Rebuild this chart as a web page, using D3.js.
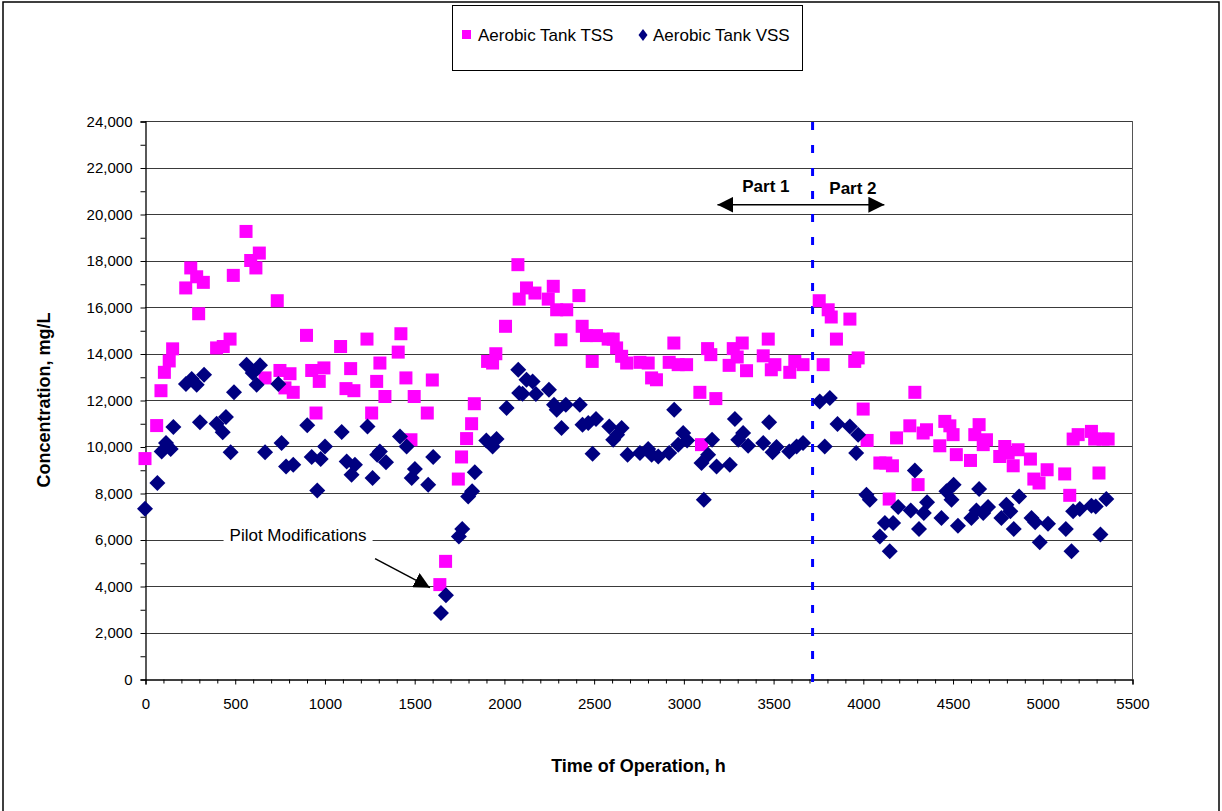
<!DOCTYPE html>
<html>
<head>
<meta charset="utf-8">
<script src="https://cdn.jsdelivr.net/npm/d3@7"></script>
<style>
body { margin: 0; background: #fff; }
svg { display: block; }
text { font-family: Arial, "Liberation Sans", sans-serif; fill: #000; }
</style>
</head>
<body>
<svg id="chart"></svg>
<script>
// Aerobic tank TSS (pink squares): time (h) and concentration (mg/L)
const tssHours = [0, 65, 89, 108, 135, 154, 227, 255, 288, 299, 325, 399, 436, 474, 492, 563, 589, 618, 637, 669,
  737, 752, 780, 808, 826, 900, 929, 953, 971, 997, 1090, 1120, 1146, 1164, 1237, 1263, 1291, 1309, 1337, 1411,
  1426, 1454, 1482, 1500, 1573, 1601, 1643, 1675, 1746, 1764, 1792, 1820, 1835, 1909, 1937, 1955, 2009, 2078, 2085, 2126,
  2173, 2247, 2275, 2294, 2318, 2350, 2418, 2436, 2460, 2492, 2516, 2581, 2609, 2628, 2656, 2684, 2758, 2804, 2823, 2850,
  2921, 2947, 2971, 3018, 3092, 3101, 3135, 3153, 3181, 3255, 3278, 3300, 3328, 3352, 3445, 3473, 3490, 3510, 3593, 3621,
  3667, 3757, 3779, 3807, 3824, 3853, 3928, 3955, 3974, 4002, 4024, 4095, 4128, 4147, 4165, 4188, 4262, 4290, 4308, 4336,
  4355, 4429, 4457, 4485, 4503, 4521, 4600, 4624, 4648, 4671, 4689, 4763, 4791, 4810, 4838, 4865, 4934, 4953, 4982, 5027,
  5125, 5153, 5172, 5200, 5274, 5292, 5316, 5339, 5367];
const tssValues = [9480, 10900, 12400, 13190, 13680, 14200, 16820, 17680, 17300, 15710, 17060, 14240, 14300, 14620, 17360, 19250, 18000, 17680, 18320, 12950,
  16270, 13270, 12520, 13130, 12330, 14780, 13270, 11440, 12800, 13380, 14300, 12490, 13350, 12400, 14620, 11440, 12800, 13590, 12150, 14060,
  14850, 12950, 10290, 12150, 11440, 12860, 4060, 5060, 8600, 9550, 10340, 10980, 11840, 13660, 13590, 13990, 15170, 17820, 16340, 16820,
  16600, 16340, 16890, 15880, 14590, 15880, 16490, 15170, 14770, 13660, 14770, 14620, 14620, 14240, 13880, 13590, 13620, 13590, 12950, 12870,
  13620, 14450, 13520, 13520, 12330, 10080, 14210, 13950, 12060, 13490, 14210, 13850, 14450, 13260, 13900, 14620, 13300, 13520, 13190, 13660,
  13520, 16270, 13520, 15880, 15570, 14620, 15480, 13660, 13810, 11610, 10260, 9290, 9290, 7740, 9170, 10370, 10890, 12330, 8360, 10580,
  10720, 10030, 11080, 10890, 10510, 9650, 9400, 10510, 10940, 10080, 10290, 9570, 10000, 9720, 9170, 9860, 9460, 8600, 8430, 9000,
  8820, 7900, 10320, 10510, 10650, 10320, 8860, 10320, 10320];

// Aerobic tank VSS (navy diamonds)
const vssHours = [0, 69, 93, 117, 143, 158, 228, 260, 288, 306, 329, 399, 433, 451, 477, 496, 566, 600, 622, 641,
  669, 743, 761, 786, 826, 904, 929, 960, 979, 1003, 1096, 1124, 1151, 1170, 1240, 1268, 1294, 1309, 1343, 1421,
  1458, 1486, 1504, 1578, 1606, 1649, 1677, 1749, 1768, 1801, 1823, 1838, 1902, 1937, 1959, 2015, 2080, 2085, 2104, 2126,
  2160, 2178, 2251, 2279, 2294, 2321, 2345, 2423, 2438, 2470, 2494, 2513, 2587, 2609, 2631, 2656, 2689, 2758, 2804, 2823,
  2860, 2921, 2949, 2971, 2999, 3021, 3101, 3114, 3138, 3160, 3185, 3259, 3287, 3306, 3333, 3361, 3445, 3478, 3497, 3519,
  3590, 3631, 3667, 3760, 3788, 3816, 3859, 3928, 3963, 3974, 4020, 4039, 4095, 4123, 4150, 4169, 4197, 4267, 4290, 4313,
  4340, 4358, 4438, 4466, 4494, 4506, 4530, 4605, 4633, 4648, 4671, 4698, 4772, 4800, 4822, 4841, 4871, 4940, 4960, 4986,
  5032, 5131, 5163, 5172, 5209, 5274, 5298, 5324, 5357];
const vssValues = [7320, 8430, 9790, 10150, 9890, 10840, 12690, 12900, 12660, 11040, 13090, 10980, 10610, 11270, 9750, 12330, 13520, 13160, 12660, 13490,
  9750, 12690, 10150, 9140, 9220, 10910, 9550, 8110, 9460, 10000, 10620, 9360, 8790, 9220, 10860, 8650, 9650, 9790, 9320, 10430,
  10000, 8650, 9030, 8360, 9550, 2840, 3600, 6130, 6450, 7850, 8070, 8890, 10260, 10000, 10320, 11660, 13300, 12300, 12270, 12870,
  12800, 12260, 12440, 11800, 11580, 10800, 11800, 11800, 10940, 11010, 9690, 11180, 10860, 10290, 10510, 10800, 9650, 9720, 9890, 9650,
  9570, 9720, 11580, 10080, 10580, 10260, 9290, 7710, 9650, 10290, 9140, 9220, 11180, 10290, 10580, 10030, 10150, 11040, 9750, 9980,
  9790, 10000, 10150, 11940, 10000, 12090, 10970, 10860, 9720, 10510, 7930, 7710, 6130, 6710, 5490, 6710, 7400, 7250, 8970, 6450,
  7140, 7600, 6920, 8070, 7710, 8360, 6590, 6920, 7250, 8170, 7140, 7400, 6920, 7500, 7210, 6450, 7850, 6920, 6740, 5880,
  6680, 6450, 5490, 7210, 7310, 7450, 7420, 6210, 7740];

const seriesNames = ["Aerobic Tank TSS", "Aerobic Tank VSS"];
const yTicks = d3.range(0, 24001, 2000);
const xTicks = d3.range(0, 5501, 500);
const partSplit = 3720;          // hour where Part 2 starts
const partArrow = [3190, 4120, 20400];
const pilotNote = { text: "Pilot Modifications", h: 853, v: 5920, from: [1282, 5180], to: [1588, 3930] };

const width = 1222, height = 811;
const svg = d3.select("#chart").attr("width", width).attr("height", height);

const x = d3.scaleLinear().domain([0, 5500]).range([145, 1132]);
const y = d3.scaleLinear().domain([0, 24000]).range([679, 121]);

// chart area border
svg.append("rect")
  .attr("x", 3).attr("y", 2).attr("width", 1216).attr("height", 840)
  .attr("fill", "#fff").attr("stroke", "#000").attr("stroke-width", 1.5);

// gridlines
svg.append("g")
  .selectAll("line")
  .data(yTicks.filter(d => d > 0))
  .join("line")
  .attr("x1", x(0)).attr("x2", x(5500))
  .attr("y1", d => Math.round(y(d)) + 0.5).attr("y2", d => Math.round(y(d)) + 0.5)
  .attr("stroke", "#3a3a3a").attr("stroke-width", 1);

// plot border (right side)
svg.append("line")
  .attr("x1", x(5500) + 0.5).attr("x2", x(5500) + 0.5)
  .attr("y1", y(24000)).attr("y2", y(0))
  .attr("stroke", "#555");

// y axis
const yAxis = svg.append("g")
  .attr("transform", `translate(${x(0) + 0.5},0.5)`)
  .call(d3.axisLeft(y).tickValues(yTicks).tickFormat(d3.format(",")).tickSize(5).tickPadding(8));
svg.append("g")
  .attr("transform", `translate(${x(0) + 0.5},0.5)`)
  .call(d3.axisLeft(y).tickValues(d3.range(1000, 24000, 2000)).tickFormat("").tickSize(5))
  .select(".domain").remove();
yAxis.selectAll("text").attr("font-size", 15).attr("font-family", "Arial, 'Liberation Sans', sans-serif");

// x axis
const xAxis = svg.append("g")
  .attr("transform", `translate(0.5,${y(0) + 0.5})`)
  .call(d3.axisBottom(x).tickValues(xTicks).tickFormat(d3.format("d")).tickSize(5).tickPadding(14));
svg.append("g")
  .attr("transform", `translate(0.5,${y(0) + 0.5})`)
  .call(d3.axisBottom(x).tickValues(d3.range(100, 5500, 100).filter(d => d % 500 !== 0)).tickFormat("").tickSize(4))
  .select(".domain").remove();
xAxis.selectAll("text").attr("font-size", 15).attr("font-family", "Arial, 'Liberation Sans', sans-serif");
svg.selectAll(".domain").attr("stroke", "#000").attr("stroke-width", 1.3);
svg.selectAll(".tick line").attr("stroke", "#000");

// axis titles
svg.append("text")
  .attr("x", (x(0) + x(5500)) / 2).attr("y", 772)
  .attr("text-anchor", "middle").attr("font-size", 18).attr("font-weight", "bold")
  .text("Time of Operation, h");
svg.append("text")
  .attr("transform", `translate(50,${(y(0) + y(24000)) / 2}) rotate(-90)`)
  .attr("text-anchor", "middle").attr("font-size", 18).attr("font-weight", "bold")
  .text("Concentration, mg/L");

// Part 1 / Part 2 divider
svg.append("line")
  .attr("x1", x(partSplit)).attr("x2", x(partSplit))
  .attr("y1", y(24000) + 1).attr("y2", y(0) + 5)
  .attr("stroke", "#0000ff").attr("stroke-width", 3)
  .attr("stroke-dasharray", "8,15");

const defs = svg.append("defs");
defs.append("marker")
  .attr("id", "arrow")
  .attr("viewBox", "0 0 10 10").attr("refX", 10).attr("refY", 5)
  .attr("markerWidth", 16).attr("markerHeight", 16)
  .attr("markerUnits", "userSpaceOnUse")
  .attr("orient", "auto-start-reverse")
  .append("path").attr("d", "M0,0L10,5L0,10Z").attr("fill", "#000");

svg.append("line")
  .attr("x1", x(partArrow[0])).attr("x2", x(partArrow[1]))
  .attr("y1", y(partArrow[2])).attr("y2", y(partArrow[2]))
  .attr("stroke", "#000").attr("stroke-width", 1.5)
  .attr("marker-start", "url(#arrow)").attr("marker-end", "url(#arrow)");

svg.append("text")
  .attr("x", x(3460)).attr("y", y(20950))
  .attr("text-anchor", "middle").attr("font-size", 17).attr("font-weight", "bold")
  .text("Part 1");
svg.append("text")
  .attr("x", x(3945)).attr("y", y(20870))
  .attr("text-anchor", "middle").attr("font-size", 17).attr("font-weight", "bold")
  .text("Part 2");

// pilot modifications note
const note = svg.append("g");
const noteText = note.append("text")
  .attr("x", x(pilotNote.h)).attr("y", y(pilotNote.v))
  .attr("text-anchor", "middle").attr("font-size", 17)
  .text(pilotNote.text);
const bb = noteText.node().getBBox();
note.insert("rect", "text")
  .attr("x", bb.x - 6).attr("y", bb.y).attr("width", bb.width + 12).attr("height", bb.height)
  .attr("fill", "#fff");
svg.append("line")
  .attr("x1", x(pilotNote.from[0])).attr("y1", y(pilotNote.from[1]))
  .attr("x2", x(pilotNote.to[0])).attr("y2", y(pilotNote.to[1]))
  .attr("stroke", "#000").attr("stroke-width", 1.5)
  .attr("marker-end", "url(#arrow)");

// data
const tss = tssHours.map((h, i) => ({ h, v: tssValues[i] }));
const vss = vssHours.map((h, i) => ({ h, v: vssValues[i] }));

svg.append("g")
  .selectAll("rect")
  .data(tss)
  .join("rect")
  .attr("x", d => x(d.h) - 6.5).attr("y", d => y(d.v) - 6.5)
  .attr("width", 13).attr("height", 13)
  .attr("fill", "#ff00ff");

const diamond = r => `M0,${-r}L${r},0L0,${r}L${-r},0Z`;
svg.append("g")
  .selectAll("path")
  .data(vss)
  .join("path")
  .attr("transform", d => `translate(${x(d.h)},${y(d.v)})`)
  .attr("d", diamond(8))
  .attr("fill", "#000080");

// legend
const legend = svg.append("g");
legend.append("rect")
  .attr("x", 452.5).attr("y", 5.5).attr("width", 350).attr("height", 65)
  .attr("fill", "#fff").attr("stroke", "#000");
legend.append("rect")
  .attr("x", 462).attr("y", 30).attr("width", 9).attr("height", 9)
  .attr("fill", "#ff00ff");
legend.append("text")
  .attr("x", 478).attr("y", 41).attr("font-size", 17)
  .text(seriesNames[0]);
legend.append("path")
  .attr("transform", "translate(643,35)")
  .attr("d", "M0,-6L4.5,0L0,6L-4.5,0Z")
  .attr("fill", "#000080");
legend.append("text")
  .attr("x", 653).attr("y", 41).attr("font-size", 17)
  .text(seriesNames[1]);
</script>
</body>
</html>
